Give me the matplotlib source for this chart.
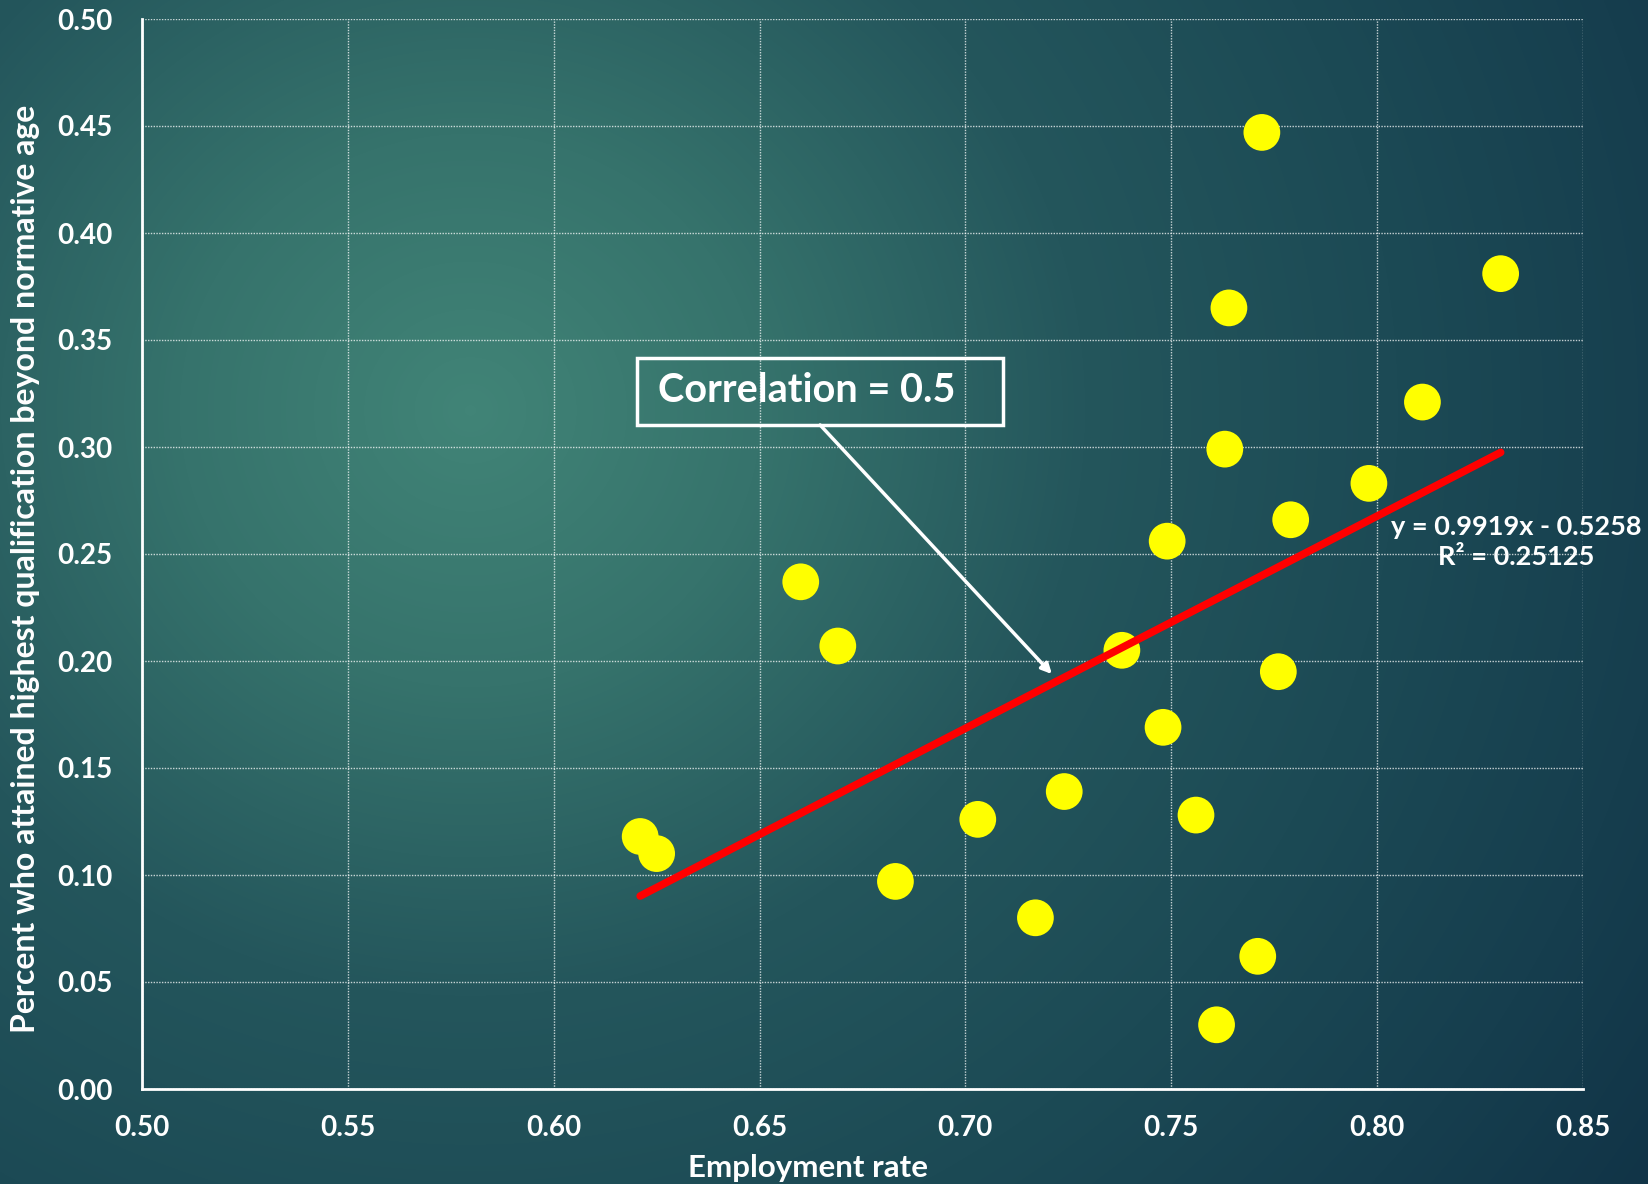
import numpy as np
import matplotlib
matplotlib.use("Agg")
import matplotlib.pyplot as plt
from matplotlib.colors import LinearSegmentedColormap
from matplotlib.patches import Rectangle

plt.rcParams['font.family'] = ['Lato', 'DejaVu Sans']
plt.rcParams['font.weight'] = 'bold'

# Employment rate vs share attaining highest qualification beyond normative age
employment_rate = [0.772, 0.830, 0.764, 0.811, 0.763, 0.798, 0.779, 0.749,
                   0.660, 0.669, 0.738, 0.776, 0.748, 0.724, 0.703, 0.756,
                   0.621, 0.625, 0.683, 0.717, 0.771, 0.761]
pct_beyond_age = [0.447, 0.381, 0.365, 0.321, 0.299, 0.283, 0.266, 0.256,
                  0.237, 0.207, 0.205, 0.195, 0.169, 0.139, 0.126, 0.128,
                  0.118, 0.110, 0.097, 0.080, 0.062, 0.030]

# Linear trend line coefficients
slope = 0.9919
intercept = -0.5258
r_squared = 0.25125
correlation = 0.5

x_ticks = [0.50, 0.55, 0.60, 0.65, 0.70, 0.75, 0.80, 0.85]
y_ticks = [0.00, 0.05, 0.10, 0.15, 0.20, 0.25, 0.30, 0.35, 0.40, 0.45, 0.50]

W, H = 1649, 1184
fig = plt.figure(figsize=(W / 100, H / 100), dpi=100)

# Radial teal background
bg = fig.add_axes([0, 0, 1, 1], zorder=-10)
yy, xx = np.mgrid[0:H, 0:W]
cx, cy = 470, 410
d = np.sqrt((xx - cx) ** 2 + ((yy - cy) * 1.05) ** 2) / 1430.0
d = np.clip(d, 0, 1)
cmap = LinearSegmentedColormap.from_list(
    "bg", [(0.0, "#418477"), (0.2, "#36736c"), (0.43, "#24565c"),
           (0.65, "#1c4a55"), (0.85, "#163e4e"), (1.0, "#113447")])
bg.imshow(d, cmap=cmap, vmin=0, vmax=1, aspect='auto', interpolation='bilinear')
bg.set_axis_off()

left, right = 142 / W, 1583 / W
bottom, top = 1 - 1089 / H, 1 - 19 / H
ax = fig.add_axes([left, bottom, right - left, top - bottom])
ax.set_facecolor('none')

ax.set_xlim(0.50, 0.85)
ax.set_ylim(0.00, 0.50)
ax.set_xticks(x_ticks)
ax.set_yticks(y_ticks)
ax.set_xticklabels([f"{v:.2f}" for v in x_ticks])
ax.set_yticklabels([f"{v:.2f}" for v in y_ticks])
ax.tick_params(axis='both', length=0, labelsize=20, labelcolor='white')
ax.tick_params(axis='y', pad=21)
ax.tick_params(axis='x', pad=19)
for lbl in ax.get_xticklabels() + ax.get_yticklabels():
    lbl.set_fontweight('bold')

ax.grid(True, color='white', linestyle=(0, (1, 1)), linewidth=1.0, alpha=0.75)
ax.set_axisbelow(True)
for side in ('top', 'right'):
    ax.spines[side].set_visible(False)
for side in ('left', 'bottom'):
    ax.spines[side].set_color('white')
    ax.spines[side].set_linewidth(2)

# Scatter points
ax.scatter(employment_rate, pct_beyond_age, s=700, color='#ffff00',
           edgecolors='none', zorder=3)

# Trend line across the data range
xs = np.array([min(employment_rate), max(employment_rate)])
ax.plot(xs, slope * xs + intercept, color='#ff0000', linewidth=5.5,
        solid_capstyle='round', zorder=4)

eq_text = f"y = {slope:.4f}x - {abs(intercept):.4f}\nR\u00b2 = {r_squared:.5f}"
ax.text(0.8337, 0.2555, eq_text, ha='center', va='center', fontsize=19.5,
        color='white', fontweight='bold', linespacing=1.3, clip_on=False,
        zorder=5)

# Correlation callout
ax.add_patch(Rectangle((0.6202, 0.3103), 0.7091 - 0.6202, 0.3416 - 0.3103,
                       fill=False, edgecolor='white', linewidth=2.5, zorder=5))
ax.text(0.6253, 0.3262, f"Correlation = {correlation}", ha='left',
        va='center', fontsize=28.5, color='white', fontweight='bold', zorder=5)
ax.annotate("", xy=(0.721, 0.1939), xytext=(0.6647, 0.3103),
            arrowprops=dict(arrowstyle='-|>,head_length=0.6,head_width=0.3',
                            color='white', lw=2.5, shrinkA=0, shrinkB=0),
            zorder=5)

fig.text(808 / W, 1 - 1168 / H, "Employment rate", ha='center', va='center',
         fontsize=22.5, color='white', fontweight='bold')
fig.text(26 / W, 1 - 569 / H,
         "Percent who attained highest qualification beyond normative age",
         ha='center', va='center', rotation=90, fontsize=23, color='white',
         fontweight='bold')

fig.savefig("out.png", dpi=100)
